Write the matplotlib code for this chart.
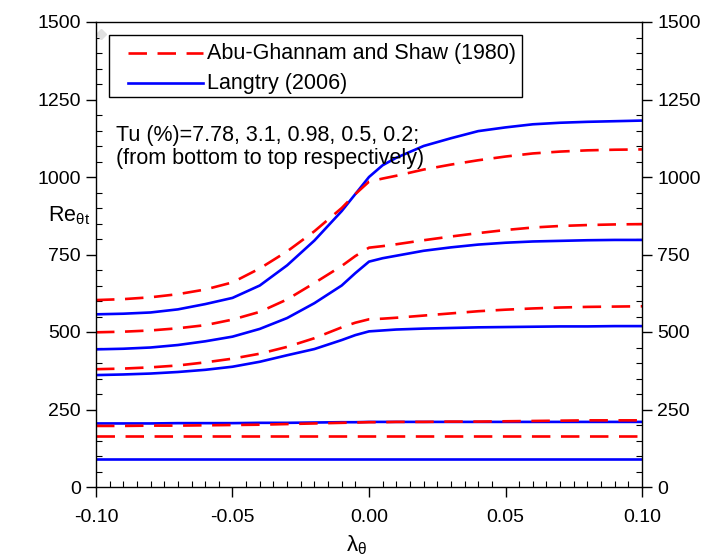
import numpy as np
import matplotlib
matplotlib.use("Agg")
import matplotlib.pyplot as plt
from matplotlib.lines import Line2D
from matplotlib.patches import Rectangle
from matplotlib.ticker import MultipleLocator, FormatStrFormatter

plt.rcParams['font.family'] = ['Liberation Sans', 'DejaVu Sans']

# pressure gradient parameter lambda_theta
lam = [-0.10, -0.09, -0.08, -0.07, -0.06, -0.05, -0.04, -0.03, -0.02, -0.01, -0.005,
       0.0, 0.005, 0.01, 0.02, 0.03, 0.04, 0.05, 0.06, 0.07, 0.08, 0.09, 0.10]

# Abu-Ghannam and Shaw (1980), Tu = 7.78, 3.1, 0.98, 0.5, 0.2
ags_tu778 = [165] * 23
ags_tu31 = [197, 197, 198, 198, 199, 200, 201, 203, 205, 207, 208,
            209, 209, 210, 210, 211, 211, 212, 213, 214, 215, 215, 215]
ags_tu098 = [380, 382, 386, 392, 402, 414, 430, 452, 480, 515, 530,
             541, 543, 546, 553, 560, 567, 572, 576, 579, 581, 582, 583]
ags_tu05 = [499, 501, 505, 512, 522, 540, 565, 605, 658, 713, 745,
            772, 777, 783, 796, 808, 819, 829, 837, 842, 845, 847, 848]
ags_tu02 = [603, 606, 612, 622, 637, 660, 705, 760, 825, 900, 945,
            985, 995, 1004, 1024, 1040, 1054, 1066, 1076, 1082, 1086, 1088, 1089]

# Langtry (2006)
lan_tu778 = [91] * 23
lan_tu31 = [205, 205, 205, 206, 206, 206, 207, 207, 208, 209, 209,
            210, 210, 210, 210, 210, 210, 210, 210, 210, 210, 210, 210]
lan_tu098 = [361, 363, 366, 371, 378, 388, 404, 425, 445, 474, 490,
             502, 505, 508, 511, 513, 515, 516, 517, 518, 518, 519, 519]
lan_tu05 = [444, 446, 450, 458, 470, 485, 510, 545, 593, 650, 690,
            727, 738, 746, 762, 773, 782, 788, 792, 794, 796, 797, 797]
lan_tu02 = [557, 559, 563, 573, 590, 610, 650, 715, 795, 890, 945,
            1000, 1038, 1062, 1100, 1125, 1148, 1160, 1170, 1175, 1178, 1180, 1182]

ags_curves = [ags_tu778, ags_tu31, ags_tu098, ags_tu05, ags_tu02]
lan_curves = [lan_tu778, lan_tu31, lan_tu098, lan_tu05, lan_tu02]

legend_labels = ['Abu-Ghannam and Shaw (1980)', 'Langtry (2006)']

red = '#ff0000'
blue = '#0000ff'
W, H = 709, 558

fig = plt.figure(figsize=(W / 100, H / 100), dpi=100)
ax = fig.add_axes([96 / W, 1 - 487 / H, 546 / W, 465 / H])

for c in lan_curves:
    ax.plot(lam, c, color=blue, lw=1.9, solid_joinstyle='round')
for c in ags_curves:
    ax.plot(lam, c, color=red, lw=1.9, dashes=(7, 4))

# stray grey marker in the original
ax.plot([-0.0982], [1461], marker='D', ms=5, color='#e0e0e0', clip_on=False)

ax.set_xlim(-0.10, 0.10)
ax.set_ylim(0, 1500)
ax.xaxis.set_major_locator(MultipleLocator(0.05))
ax.xaxis.set_minor_locator(MultipleLocator(0.005))
ax.xaxis.set_major_formatter(FormatStrFormatter('%.2f'))
ax.yaxis.set_major_locator(MultipleLocator(250))
ax.yaxis.set_minor_locator(MultipleLocator(50))

ax.tick_params(which='major', direction='out', length=7, width=1, labelsize=14,
               left=True, right=True, bottom=True, top=False, labelright=True, pad=4)
ax.tick_params(axis='x', which='major', pad=9)
ax.tick_params(which='minor', direction='in', length=4, width=0.8,
               left=True, right=True, bottom=True, top=False)
for s in ax.spines.values():
    s.set_linewidth(1)

# legend box drawn by hand (pixel layout of the original)
def fx(px):
    return px / W

def fy(py):
    return 1 - py / H

fig.patches.append(Rectangle((fx(109), fy(97)), fx(522) - fx(109), fy(35) - fy(97),
                             transform=fig.transFigure, facecolor='white',
                             edgecolor='black', lw=1, zorder=5))
fig.lines.append(Line2D([fx(128), fx(203)], [fy(53), fy(53)], transform=fig.transFigure,
                        color=red, lw=1.9, dashes=(7, 4), zorder=6))
fig.lines.append(Line2D([fx(128), fx(203)], [fy(83), fy(83)], transform=fig.transFigure,
                        color=blue, lw=1.9, zorder=6))
fig.text(fx(207), fy(53), legend_labels[0], fontsize=15.5, va='center', ha='left', zorder=6)
fig.text(fx(207), fy(83), legend_labels[1], fontsize=15.5, va='center', ha='left', zorder=6)

ax.text(20 / 546, 1 - 103 / 465, 'Tu (%)=7.78, 3.1, 0.98, 0.5, 0.2;\n(from bottom to top respectively)',
        transform=ax.transAxes, fontsize=15.5, va='top', ha='left', linespacing=1.15)

fig.text(fx(90), fy(216), r'Re$_{\mathregular{θt}}$', fontsize=15.5, va='center', ha='right')
fig.text(fx(357), fy(545), r'λ$_{\mathregular{θ}}$', fontsize=16, va='center', ha='center')

fig.savefig('out.png', dpi=100)
